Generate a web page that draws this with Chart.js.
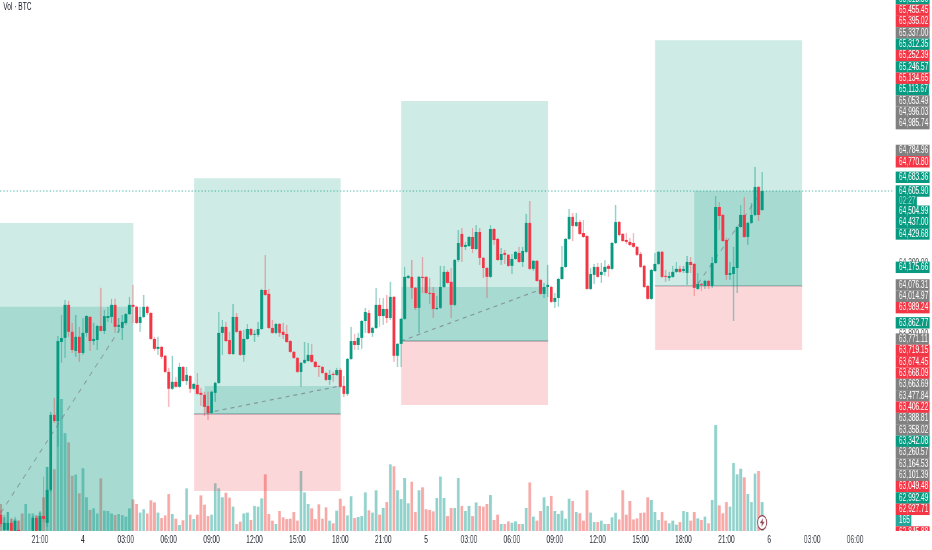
<!DOCTYPE html>
<html>
<head>
<meta charset="utf-8">
<title>Vol - BTC</title>
<script src="https://cdn.jsdelivr.net/npm/chart.js@4/dist/chart.umd.min.js"></script>
<style>
  html, body { margin: 0; padding: 0; background: #fff; overflow: hidden; }
  /* the picture is squeezed sideways, so the chart is laid out wider and scaled back */
  #wrap { position: relative; width: 1412px; height: 550px; transform: scaleX(0.66); transform-origin: 0 0; }
  #name { position: absolute; left: 5px; top: 1px; font: 10px "Liberation Sans", sans-serif; color: #131722; }
  #corner { position: absolute; left: 1353px; top: 531px; width: 59px; height: 19px; background: #fff; }
</style>
</head>
<body>
<div id="wrap">
  <canvas id="chart" width="1412" height="550"></canvas>
  <div id="name">Vol · BTC</div>
  <div id="corner"></div>
</div>
<script>
// 15 minute candles
var opens = [62780,62695,62695,62735,62690,62695,62660,62640,62655,62690,
  62763,62690,62774,62735,62921,63344,63309,63755,63778,63964,
  63812,63704,63784,63693,63806,63896,63760,63766,63845,63817,
  63890,63896,63964,63840,63834,63862,63912,63964,63953,63862,
  63896,63953,63918,63772,63716,63727,63677,63586,63491,63530,
  63502,63614,63535,63563,63491,63513,63468,63457,63394,63355,
  63468,63524,63806,63840,63766,63687,63896,63817,63682,63772,
  63828,63795,63795,63828,64048,64026,63834,63806,63856,63812,
  63800,63760,63699,63665,63586,63637,63648,63682,63643,63620,
  63614,63580,63541,63575,63569,63597,63507,63462,63659,63760,
  63738,63778,63873,63918,63806,63834,63964,63901,63941,63890,
  64009,63677,63744,63885,64116,64122,64060,63947,64122,64122,
  64031,64031,63941,63947,64065,64150,64094,63964,64217,64364,
  64291,64296,64347,64279,64375,64229,64172,64122,64392,64336,
  64217,64257,64246,64184,64223,64257,64206,64263,64426,64167,
  64212,64105,64026,64065,64065,63981,64003,64110,64178,64336,
  64460,64409,64431,64369,64352,64054,64133,64178,64133,64150,
  64184,64167,64313,64431,64364,64330,64319,64313,64291,64251,
  64184,64071,63998,64155,64195,64263,64127,64116,64122,64150,
  64167,64155,64144,64206,64195,64054,64082,64071,64099,64071,
  64200,64516,64471,64330,64133,64138,64172,64403,64471,64347,
  64426,64471,64629,64499];
var highs = [62808,62780,62797,62763,62769,62746,62672,62670,62688,62774,
  62774,62802,62995,63051,63361,63440,63789,63907,63992,63986,
  63862,63907,63840,63890,63907,63901,63862,63851,64060,63935,
  63953,63998,63998,63890,63907,63918,64009,64077,63959,63953,
  64020,63959,63924,63784,63784,63733,63682,63609,63677,63558,
  63637,63620,63614,63569,63524,63580,63496,63474,63474,63479,
  63530,63924,63879,63868,63812,63969,63918,63823,63823,63856,
  63834,63823,63868,64054,64246,64054,63879,63862,63862,63862,
  63851,63766,63704,63671,63643,63755,63749,63744,63648,63626,
  63620,63586,63597,63586,63609,63609,63563,63665,63840,63800,
  63806,63879,63947,63935,63840,64060,64003,64003,64020,64094,
  64015,63749,63890,64178,64133,64217,64065,64127,64234,64127,
  64116,64065,64015,64184,64184,64161,64172,64223,64386,64397,
  64319,64352,64397,64414,64397,64234,64178,64414,64397,64341,
  64285,64274,64251,64251,64268,64291,64291,64477,64550,64217,
  64217,64110,64088,64189,64071,64031,64116,64296,64341,64505,
  64482,64482,64443,64443,64358,64172,64195,64200,64200,64217,
  64195,64319,64527,64437,64369,64369,64341,64369,64296,64263,
  64189,64077,64167,64257,64268,64268,64161,64150,64184,64206,
  64184,64184,64240,64234,64200,64144,64088,64105,64105,64234,
  64578,64544,64477,64341,64206,64291,64409,64527,64572,64431,
  64539,64742,64634,64713];
var lows = [62713,62684,62684,62680,62680,62665,62630,62630,62640,62680,
  62680,62680,62741,62713,62910,63298,63164,63637,63665,63784,
  63693,63671,63643,63682,63784,63704,63738,63710,63815,63800,
  63868,63862,63806,63806,63766,63851,63907,63862,63856,63812,
  63890,63907,63766,63704,63682,63659,63580,63389,63485,63496,
  63496,63530,63513,63468,63485,63457,63394,63338,63315,63350,
  63417,63518,63682,63755,63682,63682,63806,63676,63643,63766,
  63789,63755,63784,63823,64015,63828,63800,63800,63784,63772,
  63749,63693,63659,63580,63502,63631,63643,63637,63609,63558,
  63575,63535,63513,63530,63563,63496,63445,63451,63654,63710,
  63710,63716,63806,63800,63784,63828,63840,63851,63862,63879,
  63643,63614,63614,63879,64110,63998,63935,63806,64031,64026,
  63969,63890,63935,63941,64060,64082,63890,63958,64206,64206,
  64274,64291,64257,64274,64189,64116,64003,64116,64302,64212,
  64189,64195,64178,64138,64217,64200,64178,64257,64161,64155,
  64094,64020,64003,64009,63975,63947,63953,64105,64172,64330,
  64324,64403,64358,64341,64048,64048,64082,64116,64088,64127,
  64122,64161,64307,64352,64319,64307,64296,64285,64240,64172,
  64060,63992,63992,64150,64189,64116,64094,64099,64116,64144,
  64144,64144,64077,64144,64015,64048,64043,64054,64054,64060,
  64195,64386,64319,64105,64105,63873,64031,64397,64341,64302,
  64420,64465,64437,64494];
var closes = [62729,62735,62735,62690,62746,62673,62640,62660,62680,62763,
  62690,62774,62757,62921,63344,63309,63760,63777,63964,63812,
  63710,63784,63693,63806,63901,63760,63772,63845,63817,63901,
  63901,63964,63840,63851,63868,63912,63964,63953,63862,63896,
  63953,63918,63772,63716,63727,63671,63586,63491,63530,63502,
  63614,63535,63569,63491,63518,63462,63457,63389,63355,63474,
  63524,63806,63840,63760,63687,63896,63812,63682,63772,63828,
  63795,63800,63828,64048,64020,63834,63806,63856,63806,63795,
  63755,63699,63665,63586,63637,63654,63682,63643,63614,63614,
  63580,63541,63569,63569,63597,63502,63462,63659,63760,63738,
  63778,63873,63924,63806,63834,63964,63901,63941,63890,64009,
  63677,63744,63885,64122,64127,64060,63947,64122,64116,64031,
  64026,63941,63947,64065,64150,64088,63964,64217,64313,64291,
  64302,64347,64279,64375,64229,64172,64122,64392,64330,64217,
  64251,64246,64184,64223,64263,64206,64268,64426,64167,64212,
  64099,64026,64065,64077,63981,64003,64110,64178,64336,64460,
  64409,64431,64364,64347,64054,64138,64178,64122,64150,64178,
  64167,64313,64431,64358,64324,64319,64302,64291,64246,64178,
  64065,63998,64161,64195,64263,64122,64122,64127,64150,64167,
  64150,64167,64206,64189,64060,64082,64077,64099,64071,64200,
  64516,64465,64324,64133,64144,64178,64403,64471,64347,64426,
  64471,64629,64471,64605.9];
var volumes = [154,78,108,68,66,60,100,154,100,100,
  90,106,192,365,450,352,740,752,558,505,
  315,322,215,358,192,120,129,100,300,116,
  114,100,91,97,91,82,129,180,154,105,
  124,100,175,163,105,74,89,211,97,70,
  34,61,243,93,68,93,203,150,85,93,
  272,243,192,218,190,139,40,53,100,105,
  63,143,139,186,323,97,59,40,114,78,
  68,70,108,59,342,220,154,129,68,152,
  70,135,59,44,116,184,143,89,198,74,
  80,85,220,118,105,232,93,131,165,380,
  369,232,182,302,158,281,108,232,249,124,
  120,112,188,310,188,85,131,131,302,143,
  114,143,85,163,143,139,154,205,63,93,
  40,40,55,47,55,40,40,131,277,82,
  59,114,192,143,200,114,97,116,70,184,
  171,108,101,59,232,105,51,51,59,40,
  40,78,104,66,232,93,171,66,72,103,
  105,192,177,108,63,108,59,44,59,36,
  51,114,108,59,108,72,63,82,44,177,
  604,146,101,165,139,388,323,355,306,211,
  165,327,342,165];

// time axis: candle slot and label
var timeSlots = [11,23,35,47,59,71,83,95,107,119,131,143,155,167,179,191,203,215,227,239];
var timeLabels = ["21:00","4","03:00","06:00","09:00","12:00","15:00","18:00","21:00","5","03:00","06:00","09:00","12:00","15:00","18:00","21:00","6","03:00","06:00"];

// long position boxes
var boxStarts = [-2,54.1,112,183];
var boxEnds = [37.15,95.1,153.1,224.2];
var boxTargets = [64426,64678,65113.67,65455.45];
var boxEntries = [62500,63349,63760,64071];
var boxStops = [62400,62915,63400,63710];
var progressStarts = [-2,57,112,194];
var progressTops = [63953,63507,64065,64605.9];
var tradeFromSlot = [0,57.7,112,195];
var tradeFromPrice = [62791,63355,63760,64082];
var tradeToSlot = [35,95,153,213];
var tradeToPrice = [63879,63507,64065,64605.9];

var lastPrice = 64605.9;

// price axis tags from top to bottom
var tagLabels = ["65,518.80","65,455.45","65,395.02","65,337.00","65,312.35","65,252.39","65,246.57","65,134.65","65,113.67","65,053.49","64,996.03","64,985.74",
  "64,784.96","64,770.80","64,683.36","64,605.90","02:27","64,504.99","64,437.00","64,429.68","64,175.66","64,076.31","64,014.97","63,989.24","63,862.77",
  "63,771.11","63,719.15","63,674.45","63,668.09","63,663.69","63,477.84","63,406.22","63,388.81","63,358.02","63,342.08","63,260.57","63,164.53","63,101.39",
  "63,049.48","62,992.49","62,927.71","165","62,845.88"];
var tagPrices = [65518.8,65455.45,65395.02,65337,65312.35,65252.39,65246.57,65134.65,65113.67,65053.49,64996.03,64985.74,
  64784.96,64770.8,64683.36,64605.9,64605.9,64504.99,64437,64429.68,64175.66,64076.31,64014.97,63989.24,63862.77,
  63771.11,63719.15,63674.45,63668.09,63663.69,63477.84,63406.22,63388.81,63358.02,63342.08,63260.57,63164.53,63101.39,
  63049.48,62992.49,62927.71,62900,62845.88];
var tagKinds = ["g","r","r","n","g","r","g","r","g","n","n","n",
  "n","r","g","g","c","g","g","g","g","n","n","r","g",
  "n","r","r","r","n","n","r","n","n","g","n","n","n",
  "r","g","r","v","r"];
var gridPrices = [64200,63800];
var gridLabels = ["64,200.00","63,800.00"];

var FONT = '"Liberation Sans", sans-serif';
var GREEN = "#089981", RED = "#f23645";
var tagColors = { g: GREEN, r: RED, n: "#808080", c: GREEN, v: "#26a69a" };

var slots = opens.map((o, i) => i);
function isUp(i) { return closes[i] >= opens[i]; }

// tags that would overlap are pushed away from the last price, like the platform does
function stackTags() {
  var gap = 64, shown = tagPrices.slice();
  var anchor = tagPrices.indexOf(lastPrice);
  for (var i = anchor - 1; i >= 0; i--) {
    shown[i] = Math.max(tagPrices[i], shown[i + 1] + gap);
  }
  for (var j = anchor + 1; j < shown.length; j++) {
    var step = (tagKinds[j] == "c" || tagKinds[j - 1] == "c") ? 57 : gap;
    shown[j] = Math.min(tagPrices[j], shown[j - 1] - step);
  }
  return shown;
}
var tagShown = stackTags();
var yTickValues = gridPrices.concat(tagShown);
var yTickLabels = gridLabels.concat(tagLabels);
var yTickKinds = gridPrices.map(() => "").concat(tagKinds);

function zone(x0, x1, top, bottom, color) {
  return {
    type: "line", order: 4, data: [{ x: x0, y: top }, { x: x1, y: top }],
    borderWidth: 0, pointRadius: 0, backgroundColor: color, fill: { value: bottom }
  };
}
function segment(x0, y0, x1, y1, color, width, dash, order) {
  return {
    type: "line", order: order, data: [{ x: x0, y: y0 }, { x: x1, y: y1 }],
    borderColor: color, borderWidth: width, borderDash: dash, pointRadius: 0, fill: false
  };
}

function boltImage() {
  var c = document.createElement("canvas");
  c.width = 10; c.height = 9;
  var g = c.getContext("2d");
  g.fillStyle = "#8e3a4a";
  g.scale(10 / 7, 1);
  g.beginPath();
  g.moveTo(4.5, 0); g.lineTo(1, 5); g.lineTo(3.2, 5); g.lineTo(2.5, 9); g.lineTo(6, 3.8); g.lineTo(3.8, 3.8);
  g.closePath();
  g.fill();
  return c;
}

// no side padding from the tick labels, the plot runs up to the canvas edge
function noPadding(scale) {
  scale.paddingLeft = 0; scale.paddingRight = 0; scale.paddingTop = 0; scale.paddingBottom = 0;
}

var datasets = [];

datasets.push({
  type: "bar", order: 6, yAxisID: "yVol", grouped: false, barThickness: 4.2, inflateAmount: 0,
  data: slots.map((i) => ({ x: i, y: volumes[i] })),
  backgroundColor: slots.map((i) => isUp(i) ? "rgba(38,166,154,0.5)" : "rgba(239,83,80,0.5)")
});

boxStarts.forEach(function (start, b) {
  datasets.push(zone(start, boxEnds[b], boxTargets[b], boxEntries[b], "rgba(8,153,129,0.2)"));
  datasets.push(zone(start, boxEnds[b], boxEntries[b], boxStops[b], "rgba(242,54,69,0.2)"));
  datasets.push(zone(progressStarts[b], boxEnds[b], progressTops[b], boxEntries[b], "rgba(8,153,129,0.2)"));
  datasets.push(segment(start, boxEntries[b], boxEnds[b], boxEntries[b], "rgba(120,123,134,0.55)", 1.4, [], 4));
  datasets.push(segment(tradeFromSlot[b], tradeFromPrice[b], tradeToSlot[b], tradeToPrice[b], "rgba(120,123,134,0.7)", 1.2, [6, 6], 3));
});

datasets.push({
  type: "bar", order: 2, grouped: false, barThickness: 2, inflateAmount: 0,
  data: slots.map((i) => ({ x: i, y: [lows[i], highs[i]] })),
  backgroundColor: slots.map((i) => isUp(i) ? "rgba(8,153,129,0.45)" : "rgba(242,54,69,0.4)")
});
datasets.push({
  type: "bar", order: 1, grouped: false, barThickness: 4.4, inflateAmount: 0, minBarLength: 1,
  data: slots.map((i) => ({ x: i, y: [opens[i], closes[i]] })),
  backgroundColor: slots.map((i) => isUp(i) ? GREEN : RED)
});

// last price line
datasets.push(segment(-2, lastPrice, 250, lastPrice, "rgba(8,153,129,0.7)", 1, [2, 3], 5));

// lightning mark sitting on the last volume bar
datasets.push({
  type: "line", order: 0, yAxisID: "yVol", showLine: false,
  data: [{ x: 213, y: 48 }],
  pointStyle: "circle", pointRadius: 7, pointBackgroundColor: "#fff", pointBorderColor: "#8e3a4a", pointBorderWidth: 1.2
});
datasets.push({
  type: "line", order: -1, yAxisID: "yVol", showLine: false,
  data: [{ x: 213, y: 48 }],
  pointStyle: boltImage(), pointRadius: 4
});

new Chart(document.getElementById("chart"), {
  data: { datasets: datasets },
  options: {
    responsive: false,
    animation: false,
    devicePixelRatio: 1,
    layout: { padding: 0, autoPadding: false },
    plugins: { legend: { display: false }, tooltip: { enabled: false }, title: { display: false } },
    scales: {
      x: {
        type: "linear", min: -0.19, max: 249.6, offset: false,
        grid: { display: false, drawTicks: false }, border: { display: false },
        afterBuildTicks: function (scale) { scale.ticks = timeSlots.map((v) => ({ value: v })); },
        afterFit: function (scale) { scale.height = 19; noPadding(scale); },
        ticks: {
          autoSkip: false, maxRotation: 0, padding: 3, color: "#2a2e39",
          font: { family: FONT, size: 10 },
          callback: function (v, i) { return timeLabels[i]; }
        }
      },
      y: {
        type: "linear", position: "right", min: 62689, max: 65683,
        grid: { display: false, drawTicks: false }, border: { display: false },
        afterBuildTicks: function (scale) { scale.ticks = yTickValues.map((v) => ({ value: v })); },
        afterFit: function (scale) { scale.width = 59; noPadding(scale); },
        ticks: {
          autoSkip: false, padding: 9, font: { family: FONT, size: 10, lineHeight: 1 },
          callback: function (v, i) { return yTickLabels[i]; },
          color: function (ctx) {
            var k = yTickKinds[ctx.index];
            return k == "" ? "#555" : (k == "c" ? "#a5dfd5" : "#fff");
          },
          showLabelBackdrop: function (ctx) { return yTickKinds[ctx.index] != ""; },
          backdropColor: function (ctx) { return tagColors[yTickKinds[ctx.index]] || "transparent"; },
          backdropPadding: { top: 0.7, bottom: 0.7, left: 5, right: 2 }
        }
      },
      yVol: { type: "linear", display: false, min: 0, max: 3027 }
    }
  }
});
</script>
</body>
</html>
